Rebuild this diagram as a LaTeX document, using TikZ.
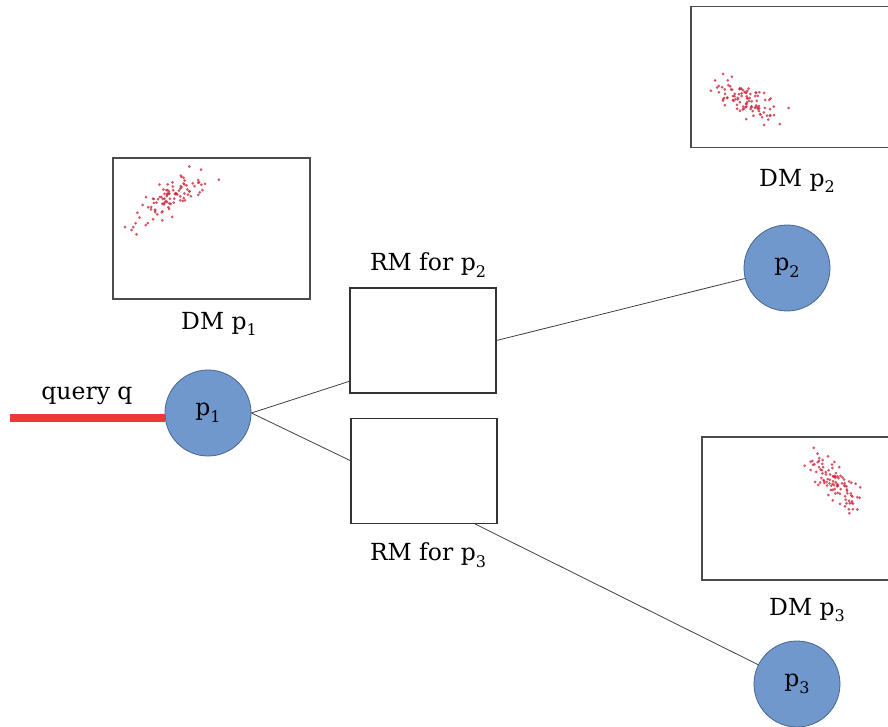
\documentclass[tikz,border=0pt]{standalone}
\usepackage{fontspec}
\setmainfont{DejaVu Serif}
\usepackage{xcolor}
\usepackage{tikz}

\definecolor{nodeblue}{RGB}{112,152,204}
\definecolor{nodeedge}{RGB}{72,102,142}
\definecolor{queryred}{RGB}{238,56,56}
\definecolor{dotred}{RGB}{205,45,65}

\newcommand{\psub}[1]{\raisebox{-0.55ex}{\fontsize{16}{16}\selectfont #1}}

\begin{document}
\begin{tikzpicture}[x=1pt, y=-1pt,
    peer/.style={circle, draw=nodeedge, line width=0.8pt, fill=nodeblue, minimum size=86pt, inner sep=0pt, font=\fontsize{23.5}{26}\selectfont},
    rmbox/.style={draw=black!80, line width=1.1pt, fill=white, minimum width=146pt, minimum height=105pt, inner sep=0pt},
    dmbox/.style={draw=black!70, line width=1.5pt, fill=white, minimum height=141pt, inner sep=0pt},
    lbl/.style={font=\fontsize{23.5}{26}\selectfont, inner sep=1pt},
    link/.style={draw=black!75, line width=0.8pt},
    dot/.style={fill=dotred, fill opacity=0.8}]
    \clip (0,0) rectangle (888,727);
    \fill[white] (0,0) rectangle (888,727);

    % Distribution models (scatter boxes)
    \node[dmbox, minimum width=197pt] (dm1) at (211.5,228.5) {};
    \node[lbl] (dm1lbl) at (219,324) {DM p\psub{1}};
    \node[dmbox, minimum width=210pt] (dm2) at (796,77) {};
    \node[lbl] (dm2lbl) at (797,181) {DM p\psub{2}};
    \node[dmbox, minimum width=200pt, minimum height=143pt] (dm3) at (802,508.5) {};
    \node[lbl] (dm3lbl) at (807,610) {DM p\psub{3}};

    % scatter points
    \pgfmathsetseed{11}
    \foreach \k in {1,...,100}{
        \pgfmathsetmacro{\a}{(rand+rand+rand)*20}
        \pgfmathsetmacro{\b}{(rand+rand+rand)*7}
        \pgfmathsetmacro{\px}{168+\a*cos(-33)-\b*sin(-33)}
        \pgfmathsetmacro{\py}{200+\a*sin(-33)+\b*cos(-33)}
        \fill[dot] (\px,\py) circle (1.5);
    }
    \foreach \k in {1,...,100}{
        \pgfmathsetmacro{\a}{(rand+rand+rand)*18}
        \pgfmathsetmacro{\b}{(rand+rand+rand)*7.5}
        \pgfmathsetmacro{\px}{745+\a*cos(27)-\b*sin(27)}
        \pgfmathsetmacro{\py}{101+\a*sin(27)+\b*cos(27)}
        \fill[dot] (\px,\py) circle (1.5);
    }
    \foreach \k in {1,...,100}{
        \pgfmathsetmacro{\a}{(rand+rand+rand)*17}
        \pgfmathsetmacro{\b}{(rand+rand+rand)*6.5}
        \pgfmathsetmacro{\px}{834+\a*cos(48)-\b*sin(48)}
        \pgfmathsetmacro{\py}{482+\a*sin(48)+\b*cos(48)}
        \fill[dot] (\px,\py) circle (1.5);
    }

    % Routing models
    \node[rmbox] (rm2) at (423,340.5) {};
    \node[lbl] (rm2lbl) at (428,265) {RM for p\psub{2}};
    \node[rmbox] (rm3) at (424,471) {};
    \node[lbl] (rm3lbl) at (428,555) {RM for p\psub{3}};

    % Peers
    \node[peer] (p1) at (208,413) {p\psub{1}};
    \node[peer] (p2) at (787,268) {p\psub{2}};
    \node[peer] (p3) at (797,684) {p\psub{3}};

    % Query
    \coordinate (qstart) at (10,418);
    \draw[line width=8pt, queryred] (qstart) -- (p1.west |- qstart);
    \node[lbl] (qlbl) at (87,396) {query q};

    % Links
    \draw[link] (p1.east) -- (rm2.209);
    \draw[link] (p1.east) -- (rm3.172);
    \draw[link] (rm2.east) -- (p2);
    \draw[link] (rm3.-46) -- (p3);
\end{tikzpicture}
\end{document}
